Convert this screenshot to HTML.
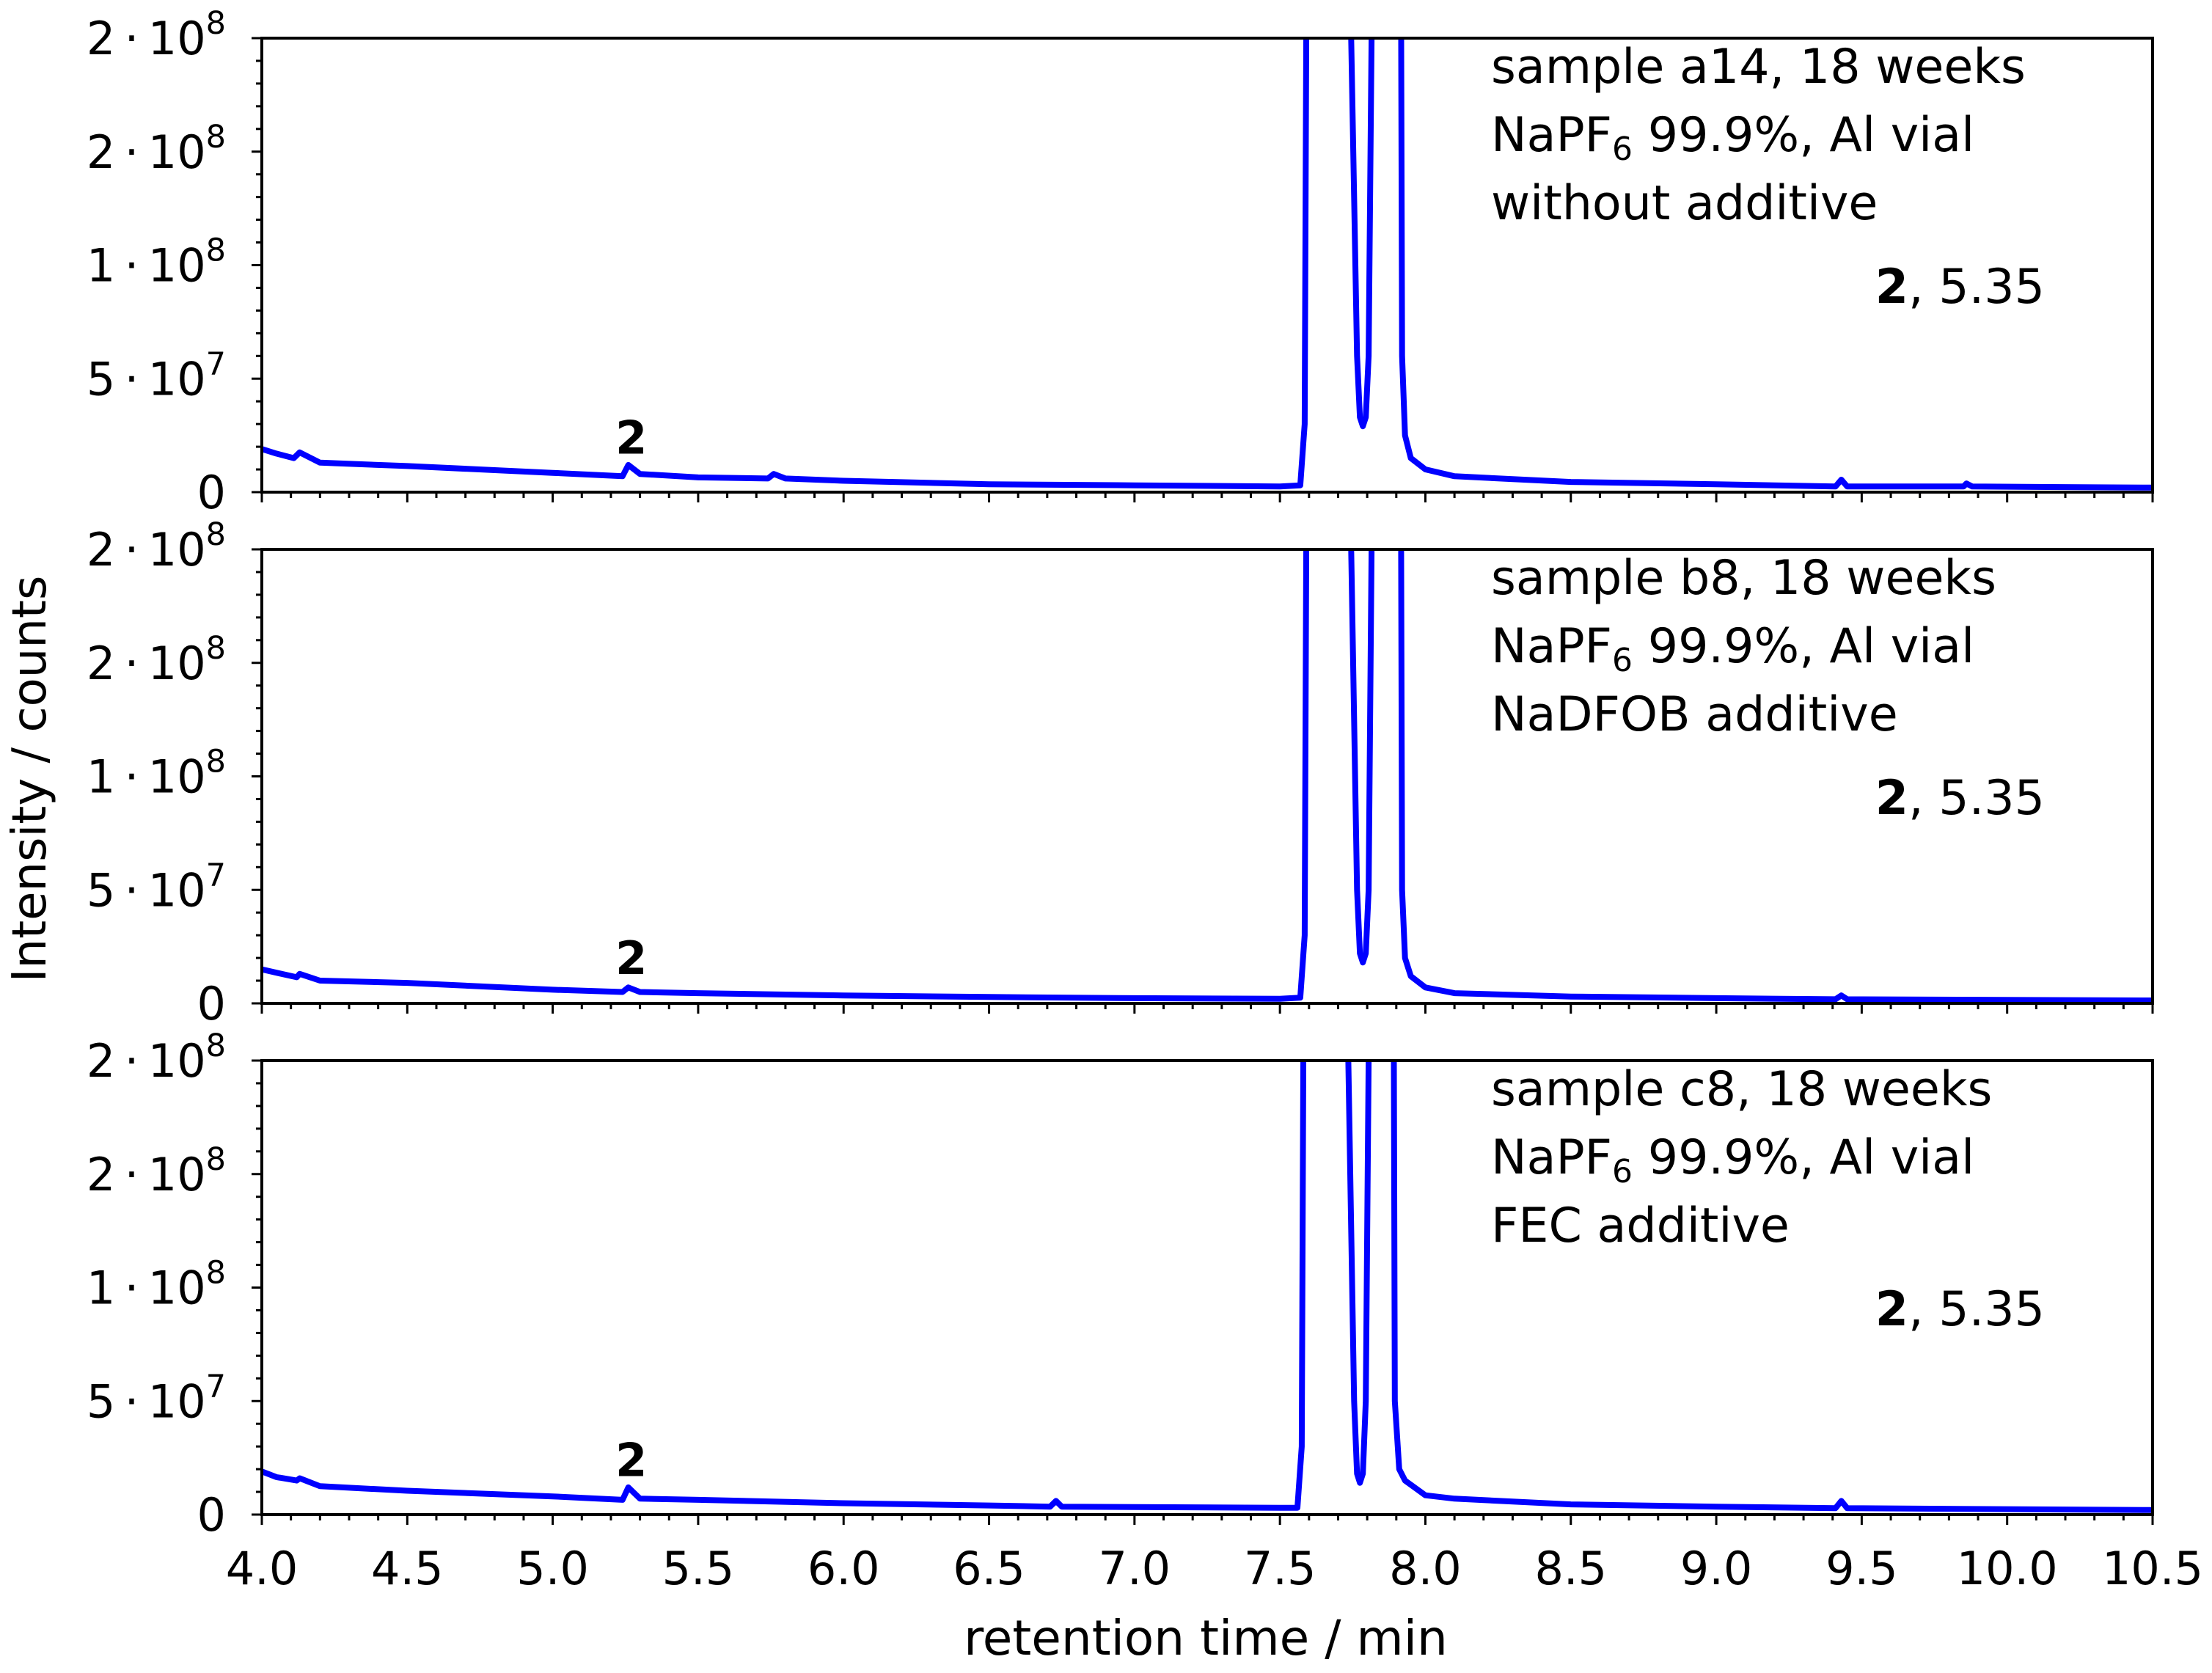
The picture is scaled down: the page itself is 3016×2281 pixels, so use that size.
<!DOCTYPE html>
<html><head><meta charset="utf-8"><style>
html,body{margin:0;padding:0;background:#fff;}
svg{display:block;font-family:"DejaVu Sans","Liberation Sans",sans-serif;}
</style></head><body>
<svg id="chart" width="3016" height="2281" viewBox="0 0 3016 2281" xmlns="http://www.w3.org/2000/svg">
<text x="0" y="0" font-size="64" text-anchor="middle" transform="translate(62,1062) rotate(-90)">Intensity / counts</text>
<text x="1644" y="2256" font-size="66" text-anchor="middle">retention time / min</text>
</svg>
<script>
const xMin = 4.0, xMax = 10.5, yMin = 0, yMax = 2e8;
const xTicks = [4.0,4.5,5.0,5.5,6.0,6.5,7.0,7.5,8.0,8.5,9.0,9.5,10.0,10.5];
const xTickLabels = ["4.0","4.5","5.0","5.5","6.0","6.5","7.0","7.5","8.0","8.5","9.0","9.5","10.0","10.5"];
const yTicks = [0,5e7,1e8,1.5e8,2e8];
const yTickBase = ["0","5\u2009\u00b7\u200910","1\u2009\u00b7\u200910","2\u2009\u00b7\u200910","2\u2009\u00b7\u200910"];
const yTickExp = ["","7","8","8","8"];
const sampleNames = ["sample a14, 18 weeks","sample b8, 18 weeks","sample c8, 18 weeks"];
const additives = ["without additive","NaDFOB additive","FEC additive"];
const peakLabelTimes = [5.28,5.28,5.28];
const peakLabelValues = [1.7e7,1.3e7,1.7e7];
const series1 = [[4.0,1.9e7],[4.05,1.7e7],[4.11,1.5e7],[4.13,1.75e7],[4.2,1.3e7],[4.5,1.15e7],[5.0,8.5e6],[5.24,7e6],[5.26,1.2e7],[5.3,8e6],[5.5,6.5e6],[5.74,6e6],[5.76,8e6],[5.8,6e6],[6.0,5e6],[6.5,3.5e6],[7.0,3e6],[7.5,2.5e6],[7.57,3e6],[7.585,3e7],[7.6,5e8],[7.72,5e8],[7.745,2e8],[7.765,6e7],[7.775,3.3e7],[7.785,2.9e7],[7.795,3.3e7],[7.805,6e7],[7.815,2e8],[7.83,5e8],[7.91,5e8],[7.92,6e7],[7.93,2.5e7],[7.95,1.5e7],[8.0,1.0e7],[8.1,7e6],[8.5,4.5e6],[9.0,3.5e6],[9.41,2.5e6],[9.43,5.5e6],[9.45,2.5e6],[9.85,2.5e6],[9.86,3.8e6],[9.88,2.5e6],[10.5,2e6]];
const series2 = [[4.0,1.5e7],[4.05,1.35e7],[4.12,1.15e7],[4.13,1.3e7],[4.2,1.0e7],[4.5,9e6],[5.0,6e6],[5.24,5e6],[5.26,7e6],[5.3,5e6],[5.5,4.5e6],[6.0,3.5e6],[6.5,2.8e6],[7.0,2.3e6],[7.5,2e6],[7.57,2.5e6],[7.585,3e7],[7.6,5e8],[7.72,5e8],[7.745,2e8],[7.765,5e7],[7.775,2.2e7],[7.785,1.8e7],[7.795,2.2e7],[7.805,5e7],[7.815,2e8],[7.83,5e8],[7.91,5e8],[7.92,5e7],[7.93,2e7],[7.95,1.2e7],[8.0,7e6],[8.1,4.5e6],[8.5,3e6],[9.0,2.3e6],[9.41,1.8e6],[9.43,3.5e6],[9.45,1.8e6],[10.5,1.3e6]];
const series3 = [[4.0,1.9e7],[4.05,1.65e7],[4.12,1.5e7],[4.13,1.6e7],[4.2,1.25e7],[4.5,1.05e7],[5.0,8e6],[5.24,6.5e6],[5.26,1.2e7],[5.3,7e6],[5.5,6.5e6],[6.0,5e6],[6.5,4e6],[6.71,3.5e6],[6.73,6e6],[6.75,3.5e6],[7.0,3.3e6],[7.5,3e6],[7.56,3e6],[7.575,3e7],[7.59,5e8],[7.71,5e8],[7.735,2e8],[7.755,5e7],[7.765,1.8e7],[7.775,1.4e7],[7.785,1.8e7],[7.795,5e7],[7.805,2e8],[7.815,5e8],[7.885,5e8],[7.895,5e7],[7.91,2e7],[7.93,1.5e7],[8.0,8.5e6],[8.1,7e6],[8.5,4.5e6],[9.0,3.5e6],[9.41,2.8e6],[9.43,6e6],[9.45,2.8e6],[10.5,2e6]];
const allSeries = [series1, series2, series3];

const svg = document.getElementById('chart');
const NS = 'http://www.w3.org/2000/svg';
const L = 357, R = 2935;
const panelTops = [52, 749, 1446];
const panelH = 619;
function mk(tag, attrs){const e=document.createElementNS(NS,tag);for(const k in attrs)e.setAttribute(k,attrs[k]);return e;}
function xs(v){return L + (v - xMin) / (xMax - xMin) * (R - L);}

allSeries.forEach((data, p) => {
  const top = panelTops[p], bot = top + panelH;
  const ys = v => bot - (v - yMin) / (yMax - yMin) * panelH;
  const g = mk('g', {});
  
  
  svg.appendChild(g);
  const clip = mk('clipPath', {id: 'clip' + p});
  clip.appendChild(mk('rect', {x: L, y: top, width: R - L, height: panelH}));
  g.appendChild(clip);
  const pts = data.map(d => xs(d[0]).toFixed(1) + ',' + ys(d[1]).toFixed(1)).join(' ');
  const line = mk('polyline', {points: pts, fill: 'none', stroke: '#0000ff', 'stroke-width': 8, 'stroke-linejoin': 'round', 'clip-path': 'url(#clip' + p + ')'});
  
  
  g.appendChild(line);
  const frame = mk('rect', {x: L, y: top, width: R - L, height: panelH, fill: 'none', stroke: '#000', 'stroke-width': 4});
  
  
  g.appendChild(frame);
  for (let v = 0; v <= yMax + 1; v += 1e7) {
    const major = Math.abs((v / 5e7) - Math.round(v / 5e7)) < 1e-6;
    const y = ys(v);
    g.appendChild(mk('line', {x1: L - (major ? 14 : 8), x2: L, y1: y, y2: y, stroke: '#000', 'stroke-width': 3}));
  }
  yTicks.forEach((v, i) => {
    const t = mk('text', {x: 308, y: ys(v) + 22, 'font-size': 62, 'text-anchor': 'end'});
    
    
    t.textContent = yTickBase[i];
    if (yTickExp[i]) {
      const s = mk('tspan', {'font-size': 43, dy: -28});
      s.textContent = yTickExp[i];
      t.appendChild(s);
    }
    g.appendChild(t);
  });
  for (let k = 0; k <= 65; k++) {
    const v = xMin + k * 0.1;
    const major = k % 5 === 0;
    const x = xs(v);
    g.appendChild(mk('line', {x1: x, x2: x, y1: bot, y2: bot + (major ? 14 : 8), stroke: '#000', 'stroke-width': 3}));
  }
  const tx = 2033;
  const a1 = mk('text', {x: tx, y: top + 61, 'font-size': 65});
  
  
  a1.textContent = sampleNames[p];
  g.appendChild(a1);
  const a2 = mk('text', {x: tx, y: top + 154, 'font-size': 65});
  
  
  a2.innerHTML = 'NaPF<tspan font-size="44" dy="12">6</tspan><tspan dy="-12"> 99.9%, Al vial</tspan>';
  g.appendChild(a2);
  const a3 = mk('text', {x: tx, y: top + 247, 'font-size': 65});
  
  
  a3.textContent = additives[p];
  g.appendChild(a3);
  const a4 = mk('text', {x: 2788, y: top + 361, 'font-size': 65, 'text-anchor': 'end'});
  
  
  a4.innerHTML = '<tspan font-weight="bold">2</tspan>, 5.35';
  g.appendChild(a4);
  const pl = mk('text', {x: xs(peakLabelTimes[p]) - 4, y: ys(peakLabelValues[p]), 'font-size': 62, 'font-weight': 'bold', 'text-anchor': 'middle'});
  
  
  pl.textContent = '2';
  g.appendChild(pl);
});
const bot3 = panelTops[2] + panelH;
xTicks.forEach((v, i) => {
  const t = mk('text', {x: xs(v), y: bot3 + 95, 'font-size': 62, 'text-anchor': 'middle'});
  
  
  t.textContent = xTickLabels[i];
  svg.appendChild(t);
});
</script>
</body></html>
